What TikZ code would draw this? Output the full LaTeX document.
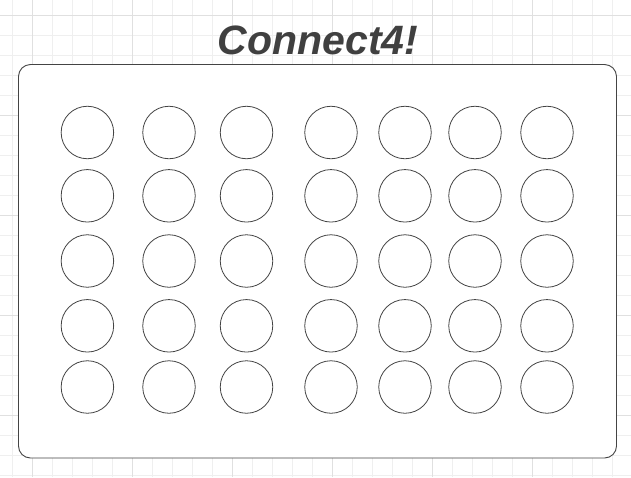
\documentclass[tikz,border=0pt]{standalone}
\usepackage{fontspec}
\setmainfont{Liberation Sans}
\definecolor{gridminor}{HTML}{EFEFEF}
\definecolor{gridmajor}{HTML}{E0E0E0}
\definecolor{titlegray}{HTML}{404040}
\definecolor{edgegray}{HTML}{444444}
\tikzset{
  hole/.style={circle, draw=edgegray, line width=0.8pt, minimum size=52.5pt, inner sep=0pt},
  board/.style={draw=edgegray, line width=0.9pt, rounded corners=12pt, fill=white},
  titletext/.style={font=\fontsize{41}{41}\selectfont\bfseries\itshape, text=titlegray, inner sep=0pt},
}
\begin{document}
\begin{tikzpicture}[x=1pt,y=-1pt]
\useasboundingbox (0,0) rectangle (631,477);
\fill[white] (0,0) rectangle (631,477);
% grid
\foreach \x in {12,32,...,631} \draw[gridminor, line width=0.7pt] (\x,0) -- (\x,477);
\foreach \y in {15,35,...,477} \draw[gridminor, line width=0.7pt] (0,\y) -- (631,\y);
\foreach \x in {32,132,...,631} \draw[gridmajor, line width=0.8pt] (\x,0) -- (\x,477);
\foreach \y in {15,115,...,477} \draw[gridmajor, line width=0.8pt] (0,\y) -- (631,\y);
% title
\node[titletext] (title) at (318,40) {Connect4!};
% board
\draw[board] (18.5,64.5) rectangle (616.5,458);
\coordinate (boardc) at (317.5,261);
% holes
\foreach \cx [count=\i] in {87.4,169,246.5,331,405,475,547}{
  \foreach \cy [count=\j] in {132.5,195.8,261,325.8,387}{
    \node[hole] (h-\j-\i) at (\cx,\cy) {};
  }
}
\end{tikzpicture}
\end{document}
